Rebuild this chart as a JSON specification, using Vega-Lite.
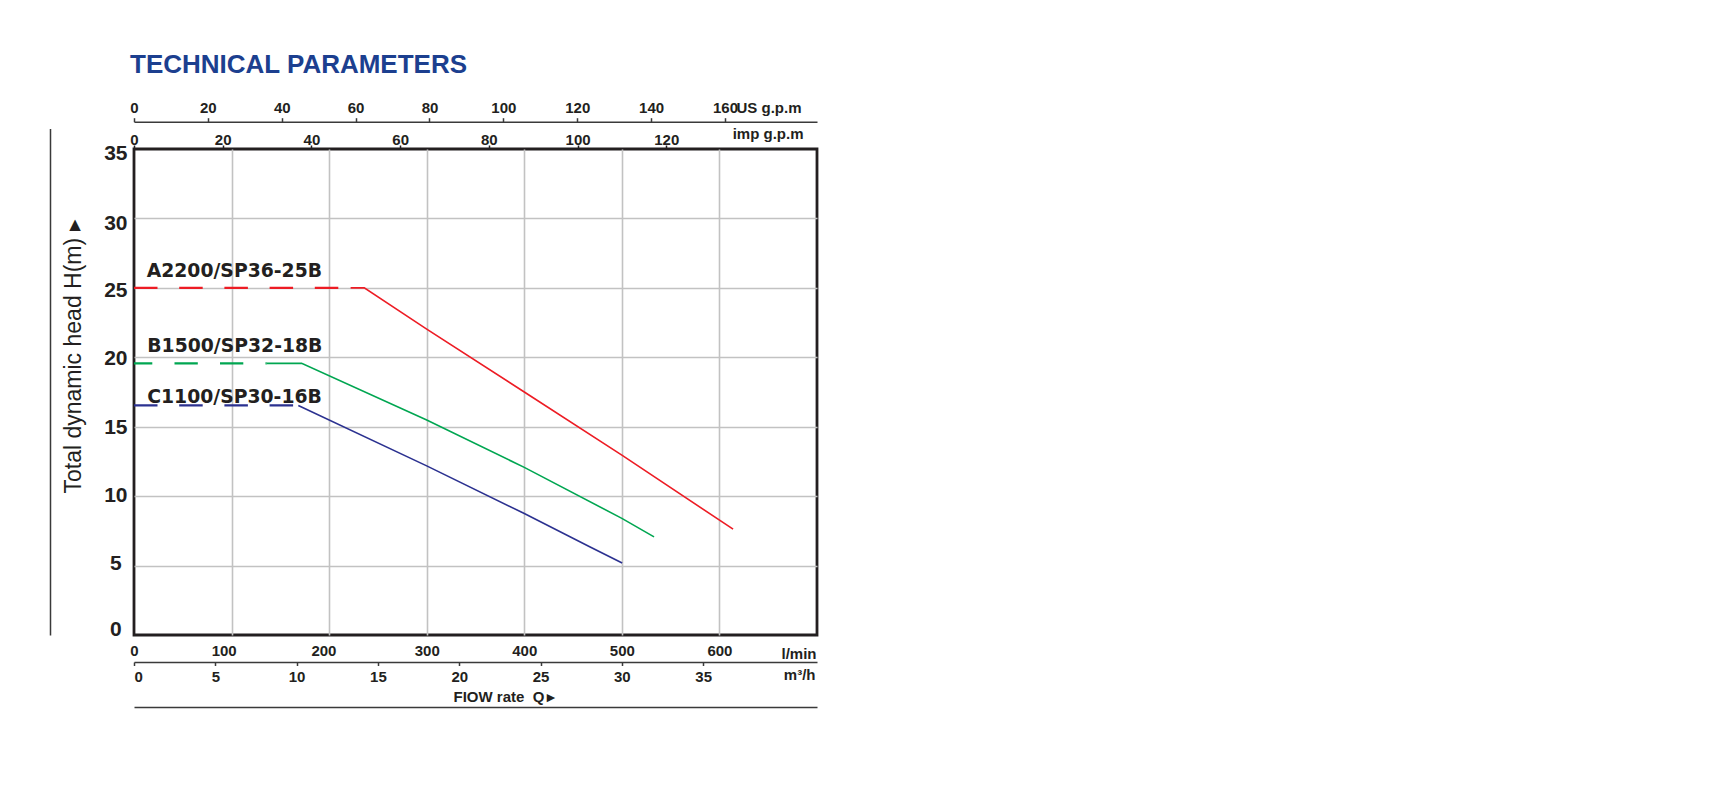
{
  "$schema": "https://vega.github.io/schema/vega-lite/v6.json",
  "width": 683,
  "height": 486,
  "autosize": {"type": "none"},
  "padding": {"left": 134, "top": 149, "right": 903, "bottom": 165},
  "background": "white",
  "config": {
    "view": {"stroke": "#231f20", "strokeWidth": 2.8},
    "font": "Liberation Sans",
    "axis": {
      "labelFont": "Liberation Sans",
      "labelFontWeight": "bold",
      "labelFontSize": 15,
      "labelColor": "#231f20",
      "titleFont": "Liberation Sans",
      "titleFontWeight": "bold",
      "titleFontSize": 15,
      "titleColor": "#231f20",
      "labelFlush": false,
      "labelOverlap": false,
      "labelBound": false,
      "titlePadding": 0,
      "grid": false,
      "domainColor": "#3a3a3a",
      "domainWidth": 1.5,
      "tickColor": "#3a3a3a",
      "tickWidth": 1.5
    }
  },
  "title": {
    "text": "TECHNICAL PARAMETERS",
    "anchor": "start",
    "frame": "group",
    "font": "Liberation Sans",
    "fontSize": 26,
    "fontWeight": "bold",
    "color": "#1c3f8f",
    "baseline": "alphabetic",
    "dx": -4,
    "offset": 1.2
  },
  "datasets": {
    "curves": [
      {"model": "A2200/SP36-25B", "part": "flat", "q": 0, "h": 25},
      {"model": "A2200/SP36-25B", "part": "flat", "q": 222, "h": 25},
      {"model": "A2200/SP36-25B", "part": "solid", "q": 222, "h": 25},
      {"model": "A2200/SP36-25B", "part": "solid", "q": 236, "h": 25},
      {"model": "A2200/SP36-25B", "part": "solid", "q": 300, "h": 22.03},
      {"model": "A2200/SP36-25B", "part": "solid", "q": 400, "h": 17.5},
      {"model": "A2200/SP36-25B", "part": "solid", "q": 500, "h": 12.95},
      {"model": "A2200/SP36-25B", "part": "solid", "q": 614, "h": 7.62},
      {"model": "B1500/SP32-18B", "part": "flat", "q": 0, "h": 19.56},
      {"model": "B1500/SP32-18B", "part": "flat", "q": 136, "h": 19.56},
      {"model": "B1500/SP32-18B", "part": "solid", "q": 136, "h": 19.56},
      {"model": "B1500/SP32-18B", "part": "solid", "q": 171.8, "h": 19.56},
      {"model": "B1500/SP32-18B", "part": "solid", "q": 300, "h": 15.48},
      {"model": "B1500/SP32-18B", "part": "solid", "q": 400, "h": 12.07},
      {"model": "B1500/SP32-18B", "part": "solid", "q": 500, "h": 8.4},
      {"model": "B1500/SP32-18B", "part": "solid", "q": 533, "h": 7.07},
      {"model": "C1100/SP30-16B", "part": "flat", "q": 0, "h": 16.53},
      {"model": "C1100/SP30-16B", "part": "flat", "q": 168.4, "h": 16.53},
      {"model": "C1100/SP30-16B", "part": "solid", "q": 168.4, "h": 16.53},
      {"model": "C1100/SP30-16B", "part": "solid", "q": 300, "h": 12.18},
      {"model": "C1100/SP30-16B", "part": "solid", "q": 400, "h": 8.75},
      {"model": "C1100/SP30-16B", "part": "solid", "q": 467, "h": 6.35},
      {"model": "C1100/SP30-16B", "part": "solid", "q": 500.3, "h": 5.19}
    ],
    "labels": [
      {"label": "A2200/SP36-25B", "q": 13.0, "h": 25.75},
      {"label": "B1500/SP32-18B", "q": 13.6, "h": 20.4},
      {"label": "C1100/SP30-16B", "q": 13.6, "h": 16.68}
    ],
    "anchor": [{"v": 0}]
  },
  "resolve": {"scale": {"x": "independent", "y": "independent"}},
  "layer": [
    {
      "data": {"name": "curves"},
      "transform": [{"filter": "datum.part == 'solid'"}],
      "mark": {"type": "line", "strokeWidth": 1.6},
      "encoding": {
        "x": {
          "field": "q", "type": "quantitative",
          "scale": {"domain": [0, 700], "nice": false, "zero": false},
          "axis": {
            "orient": "bottom",
            "values": [0, 100, 200, 300, 400, 500, 600],
            "domain": false,
            "ticks": false,
            "tickSize": 0,
            "labelPadding": 8.4,
            "labelOffset": {"condition": [{"test": "datum.value == 100", "value": -7.9}, {"test": "datum.value == 200", "value": -5.7}], "value": 0},
            "grid": true,
            "gridColor": "#c2c2c2",
            "gridWidth": 1.6,
            "gridOpacity": {"condition": {"test": "datum.value == 0", "value": 0}, "value": 1},
            "title": "l/min",
            "titleX": 682,
            "titleY": 23,
            "titleAlign": "right",
            "titleBaseline": "alphabetic"
          }
        },
        "y": {
          "field": "h", "type": "quantitative",
          "scale": {"domain": [0, 35], "nice": false, "zero": false},
          "axis": {
            "orient": "left",
            "values": [0, 5, 10, 15, 20, 25, 30, 35],
            "domain": false,
            "ticks": false,
            "tickSize": 0,
            "labelPadding": 18.7,
            "labelAlign": "center",
            "labelBaseline": "middle",
            "labelFontSize": 21,
            "labelOffset": {"condition": [
              {"test": "datum.value == 0", "value": -5.8},
              {"test": "datum.value == 5", "value": -2.5},
              {"test": "datum.value == 10", "value": -0.6},
              {"test": "datum.value == 15", "value": 0.5},
              {"test": "datum.value == 20", "value": 1.6},
              {"test": "datum.value == 25", "value": 2.7}
            ], "value": 4.6},
            "grid": true,
            "gridColor": "#c2c2c2",
            "gridWidth": 1.6,
            "gridOpacity": {"condition": {"test": "datum.value == 0 || datum.value == 35", "value": 0}, "value": 1},
            "title": null
          }
        },
        "color": {
          "field": "model", "type": "nominal",
          "scale": {"domain": ["A2200/SP36-25B", "B1500/SP32-18B", "C1100/SP30-16B"], "range": ["#ed1c24", "#00a651", "#2b3190"]},
          "legend": null
        }
      }
    },
    {
      "data": {"name": "curves"},
      "transform": [{"filter": "datum.part == 'flat' && datum.model != 'B1500/SP32-18B'"}],
      "mark": {"type": "line", "strokeWidth": 2.2, "strokeDash": [23.5, 21.7]},
      "encoding": {
        "x": {"field": "q", "type": "quantitative", "scale": {"domain": [0, 700], "nice": false, "zero": false}, "axis": null},
        "y": {"field": "h", "type": "quantitative", "scale": {"domain": [0, 35], "nice": false, "zero": false}, "axis": null},
        "color": {"field": "model", "type": "nominal", "legend": null}
      }
    },
    {
      "data": {"name": "curves"},
      "transform": [{"filter": "datum.part == 'flat' && datum.model == 'B1500/SP32-18B'"}],
      "mark": {"type": "line", "strokeWidth": 2.2, "strokeDash": [23.3, 22.2], "strokeDashOffset": 5},
      "encoding": {
        "x": {"field": "q", "type": "quantitative", "scale": {"domain": [0, 700], "nice": false, "zero": false}, "axis": null},
        "y": {"field": "h", "type": "quantitative", "scale": {"domain": [0, 35], "nice": false, "zero": false}, "axis": null},
        "color": {"field": "model", "type": "nominal", "legend": null}
      }
    },
    {
      "data": {"name": "labels"},
      "mark": {"type": "text", "align": "left", "baseline": "alphabetic", "font": "DejaVu Sans", "fontWeight": "bold", "fontSize": 18.8, "color": "#231f20"},
      "encoding": {
        "x": {"field": "q", "type": "quantitative", "scale": {"domain": [0, 700], "nice": false, "zero": false}, "axis": null},
        "y": {"field": "h", "type": "quantitative", "scale": {"domain": [0, 35], "nice": false, "zero": false}, "axis": null},
        "text": {"field": "label"}
      }
    },
    {
      "data": {"name": "anchor"},
      "mark": {"type": "point", "opacity": 0},
      "encoding": {
        "x": {
          "datum": 0, "type": "quantitative",
          "scale": {"domain": [0, 42], "nice": false, "zero": false},
          "axis": {
            "orient": "bottom",
            "offset": 27,
            "values": [0, 5, 10, 15, 20, 25, 30, 35],
            "domain": true,
            "ticks": true,
            "tickSize": 3.5,
            "labelPadding": 3.8,
            "labelFlush": true,
            "title": "m³/h",
            "titleX": 681,
            "titleY": 17.3,
            "titleAlign": "right",
            "titleBaseline": "alphabetic"
          }
        }
      }
    },
    {
      "data": {"name": "anchor"},
      "mark": {"type": "point", "opacity": 0},
      "encoding": {
        "x": {
          "datum": 0, "type": "quantitative",
          "scale": {"domain": [0, 42], "nice": false, "zero": false},
          "axis": {
            "orient": "bottom",
            "offset": 72,
            "labels": false,
            "ticks": false,
            "domain": true,
            "domainWidth": 1.4,
            "title": "FIOW rate\u00a0\u00a0Q\u2009▸",
            "titleX": 319,
            "titleY": -5.7,
            "titleAlign": "left",
            "titleBaseline": "alphabetic"
          }
        }
      }
    },
    {
      "data": {"name": "anchor"},
      "mark": {"type": "point", "opacity": 0},
      "encoding": {
        "x": {
          "datum": 0, "type": "quantitative",
          "scale": {"domain": [0, 184.92], "nice": false, "zero": false},
          "axis": {
            "orient": "top",
            "offset": 27.3,
            "values": [0, 20, 40, 60, 80, 100, 120, 140, 160],
            "domain": true,
            "ticks": true,
            "tickSize": 4,
            "labelPadding": 5,
            "labelBaseline": "alphabetic",
            "title": "US g.p.m",
            "titleX": 602,
            "titleY": -9.5,
            "titleAlign": "left",
            "titleBaseline": "alphabetic"
          }
        }
      }
    },
    {
      "data": {"name": "anchor"},
      "mark": {"type": "point", "opacity": 0},
      "encoding": {
        "x": {
          "datum": 0, "type": "quantitative",
          "scale": {"domain": [0, 153.98], "nice": false, "zero": false},
          "axis": {
            "orient": "top",
            "offset": 0,
            "values": [0, 20, 40, 60, 80, 100, 120],
            "domain": false,
            "ticks": true,
            "tickSize": 4,
            "tickColor": "#231f20",
            "labelPadding": 1,
            "labelBaseline": "alphabetic",
            "title": "imp g.p.m",
            "titleX": 669,
            "titleY": -10.7,
            "titleAlign": "right",
            "titleBaseline": "alphabetic"
          }
        }
      }
    },
    {
      "data": {"name": "anchor"},
      "mark": {"type": "point", "opacity": 0},
      "encoding": {
        "y": {
          "datum": 0, "type": "quantitative",
          "scale": {"domain": [0, 35], "range": [486, -20.5], "nice": false, "zero": false},
          "axis": {
            "orient": "left",
            "offset": 84,
            "labels": false,
            "ticks": false,
            "domain": true,
            "title": "Total dynamic head H(m) ▸",
            "titleFont": "Liberation Sans",
            "titleFontSize": 23,
            "titleFontWeight": "normal",
            "titleAngle": 270,
            "titleAlign": "left",
            "titleBaseline": "alphabetic",
            "titleX": 30.7,
            "titleY": 344
          }
        }
      }
    }
  ]
}
